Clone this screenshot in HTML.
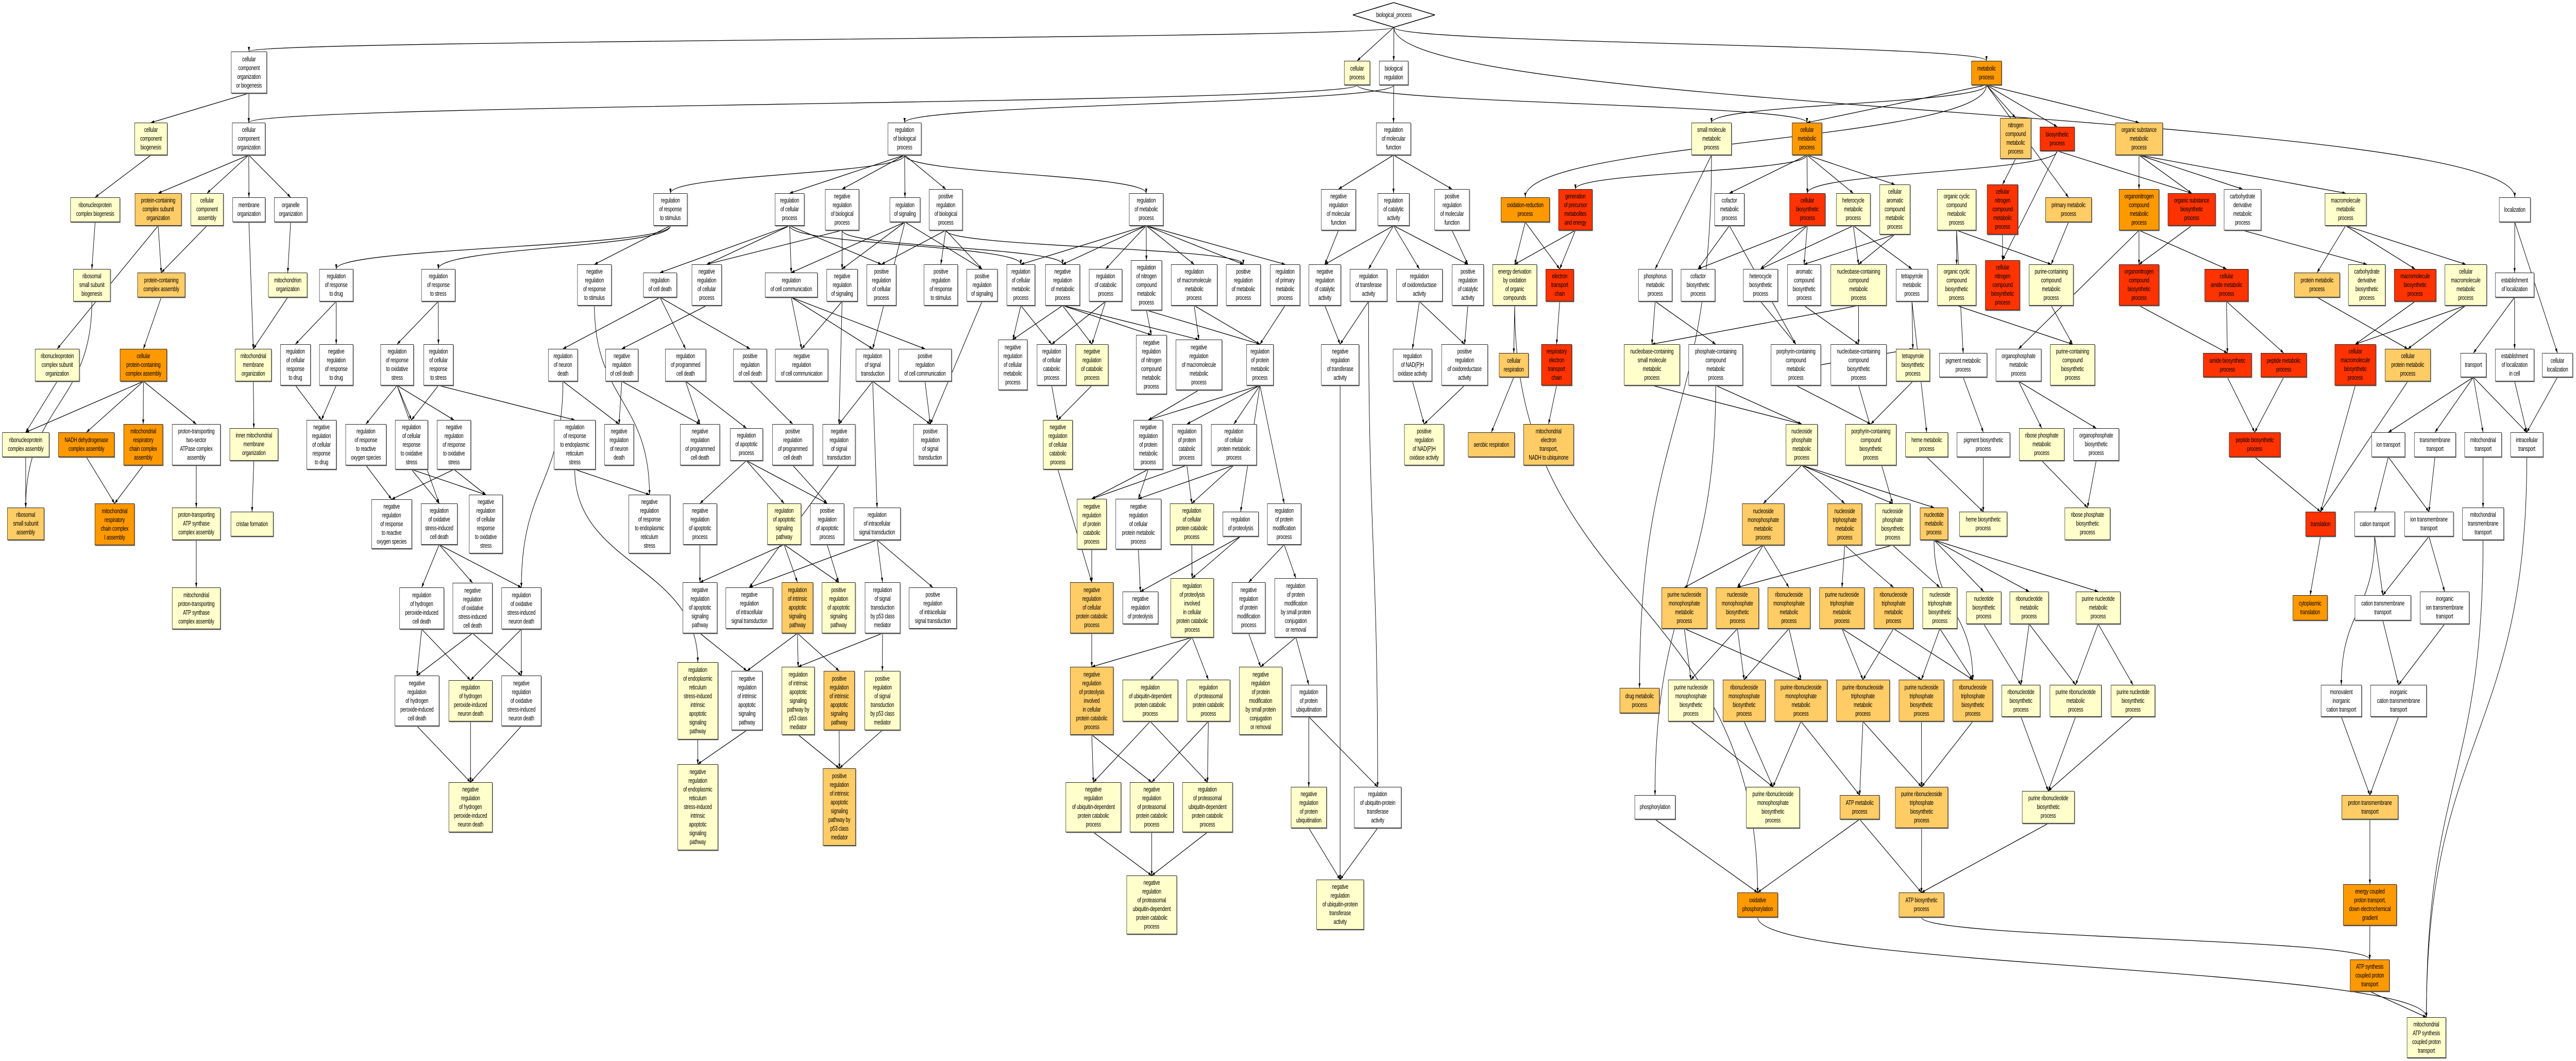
<!DOCTYPE html>
<html><head><meta charset="utf-8"><style>
html,body{margin:0;padding:0;background:#fff;overflow:hidden;width:100%;height:100%}
#c{position:absolute;left:0;top:0;width:7068px;height:2059px;overflow:hidden;background:#fff;transform-origin:0 0}
svg{position:absolute;left:0;top:0}
.n{position:absolute;box-sizing:border-box;border:1.5px solid #222;box-shadow:1.5px 1.5px 0 #777;display:flex;align-items:center;justify-content:center;text-align:center;font-family:"Liberation Sans",sans-serif;font-size:12.5px;line-height:17px;letter-spacing:-0.3px;color:#000;white-space:nowrap;overflow:visible}
.w{background:#fff}.y{background:#ffffcc}.lo{background:#ffcc66}.o{background:#ff9900}.r{background:#ff3300}
.d{border:none;box-shadow:none;background:transparent}
</style></head><body><div id="c">
<svg id="s" width="7068" height="2059" viewBox="0 0 7068 2059"><defs><marker id="a" markerWidth="9" markerHeight="14" refX="14" refY="4.5" orient="auto" markerUnits="userSpaceOnUse" viewBox="0 0 14 9"><path d="M0,0 L14,4.5 L0,9 z" fill="#000"/></marker></defs><g id="e" fill="none" stroke="#000" stroke-width="1.3"></g><polygon points="3712,29 3824,5 3937,29 3824,53" fill="#fff" stroke="#000" stroke-width="1.5"/></svg>
<div class="n d" id="n133" style="left:3712px;top:5px;width:225px;height:48px">biological_process</div>
<div class="n w" id="n1" style="left:634px;top:100px;width:98px;height:81px">cellular<br>component<br>organization<br>or biogenesis</div>
<div class="n y" id="n2" style="left:369px;top:238px;width:90px;height:63px">cellular<br>component<br>biogenesis</div>
<div class="n w" id="n3" style="left:637px;top:238px;width:91px;height:63px">cellular<br>component<br>organization</div>
<div class="n y" id="n4" style="left:193px;top:383px;width:136px;height:48px">ribonucleoprotein<br>complex biogenesis</div>
<div class="n lo" id="n5" style="left:370px;top:375px;width:128px;height:63px">protein-containing<br>complex subunit<br>organization</div>
<div class="n y" id="n6" style="left:523px;top:375px;width:90px;height:63px">cellular<br>component<br>assembly</div>
<div class="n w" id="n7" style="left:638px;top:383px;width:90px;height:48px">membrane<br>organization</div>
<div class="n w" id="n8" style="left:752px;top:383px;width:91px;height:48px">organelle<br>organization</div>
<div class="n y" id="n9" style="left:201px;top:522px;width:102px;height:63px">ribosomal<br>small subunit<br>biogenesis</div>
<div class="n lo" id="n10" style="left:377px;top:529px;width:131px;height:48px">protein-containing<br>complex assembly</div>
<div class="n y" id="n11" style="left:736px;top:529px;width:107px;height:48px">mitochondrion<br>organization</div>
<div class="n w" id="n12" style="left:876px;top:522px;width:93px;height:63px">regulation<br>of response<br>to drug</div>
<div class="n w" id="n13" style="left:1156px;top:522px;width:93px;height:63px">regulation<br>of response<br>to stress</div>
<div class="n w" id="n14" style="left:1584px;top:513px;width:94px;height:80px">negative<br>regulation<br>of response<br>to stimulus</div>
<div class="n y" id="n15" style="left:96px;top:677px;width:122px;height:63px">ribonucleoprotein<br>complex subunit<br>organization</div>
<div class="n o" id="n16" style="left:329px;top:677px;width:129px;height:63px">cellular<br>protein-containing<br>complex assembly</div>
<div class="n y" id="n17" style="left:645px;top:677px;width:100px;height:63px">mitochondrial<br>membrane<br>organization</div>
<div class="n w" id="n18" style="left:769px;top:668px;width:83px;height:80px">regulation<br>of cellular<br>response<br>to drug</div>
<div class="n w" id="n19" style="left:876px;top:668px;width:93px;height:80px">negative<br>regulation<br>of response<br>to drug</div>
<div class="n w" id="n20" style="left:1044px;top:668px;width:91px;height:80px">regulation<br>of response<br>to oxidative<br>stress</div>
<div class="n w" id="n21" style="left:1162px;top:668px;width:82px;height:80px">regulation<br>of cellular<br>response<br>to stress</div>
<div class="n w" id="n22" style="left:1504px;top:677px;width:81px;height:63px">regulation<br>of neuron<br>death</div>
<div class="n w" id="n23" style="left:1661px;top:677px;width:90px;height:63px">negative<br>regulation<br>of cell death</div>
<div class="n y" id="n24" style="left:6px;top:839px;width:129px;height:48px">ribonucleoprotein<br>complex assembly</div>
<div class="n o" id="n25" style="left:160px;top:839px;width:154px;height:48px">NADH dehydrogenase<br>complex assembly</div>
<div class="n o" id="n26" style="left:339px;top:823px;width:108px;height:80px">mitochondrial<br>respiratory<br>chain complex<br>assembly</div>
<div class="n w" id="n27" style="left:472px;top:823px;width:133px;height:80px">proton-transporting<br>two-sector<br>ATPase complex<br>assembly</div>
<div class="n y" id="n28" style="left:630px;top:831px;width:133px;height:63px">inner mitochondrial<br>membrane<br>organization</div>
<div class="n w" id="n29" style="left:841px;top:815px;width:82px;height:96px">negative<br>regulation<br>of cellular<br>response<br>to drug</div>
<div class="n w" id="n30" style="left:948px;top:823px;width:112px;height:80px">regulation<br>of response<br>to reactive<br>oxygen species</div>
<div class="n w" id="n31" style="left:1084px;top:815px;width:90px;height:96px">regulation<br>of cellular<br>response<br>to oxidative<br>stress</div>
<div class="n w" id="n32" style="left:1199px;top:815px;width:93px;height:96px">negative<br>regulation<br>of response<br>to oxidative<br>stress</div>
<div class="n w" id="n33" style="left:1520px;top:815px;width:114px;height:96px">regulation<br>of response<br>to endoplasmic<br>reticulum<br>stress</div>
<div class="n w" id="n34" style="left:1658px;top:823px;width:81px;height:80px">negative<br>regulation<br>of neuron<br>death</div>
<div class="n lo" id="n35" style="left:20px;top:985px;width:101px;height:63px">ribosomal<br>small subunit<br>assembly</div>
<div class="n o" id="n36" style="left:260px;top:977px;width:109px;height:81px">mitochondrial<br>respiratory<br>chain complex<br>I assembly</div>
<div class="n y" id="n37" style="left:472px;top:985px;width:133px;height:63px">proton-transporting<br>ATP synthase<br>complex assembly</div>
<div class="n y" id="n38" style="left:633px;top:993px;width:117px;height:48px">cristae formation</div>
<div class="n w" id="n39" style="left:1019px;top:969px;width:111px;height:96px">negative<br>regulation<br>of response<br>to reactive<br>oxygen species</div>
<div class="n w" id="n40" style="left:1155px;top:977px;width:100px;height:80px">regulation<br>of oxidative<br>stress-induced<br>cell death</div>
<div class="n w" id="n41" style="left:1287px;top:960px;width:92px;height:114px">negative<br>regulation<br>of cellular<br>response<br>to oxidative<br>stress</div>
<div class="n w" id="n42" style="left:1725px;top:960px;width:114px;height:114px">negative<br>regulation<br>of response<br>to endoplasmic<br>reticulum<br>stress</div>
<div class="n y" id="n44" style="left:472px;top:1140px;width:133px;height:81px">mitochondrial<br>proton-transporting<br>ATP synthase<br>complex assembly</div>
<div class="n w" id="n45" style="left:1096px;top:1140px;width:122px;height:81px">regulation<br>of hydrogen<br>peroxide-induced<br>cell death</div>
<div class="n w" id="n46" style="left:1242px;top:1131px;width:109px;height:98px">negative<br>regulation<br>of oxidative<br>stress-induced<br>cell death</div>
<div class="n w" id="n47" style="left:1376px;top:1140px;width:109px;height:81px">regulation<br>of oxidative<br>stress-induced<br>neuron death</div>
<div class="n w" id="n48" style="left:1083px;top:1311px;width:122px;height:98px">negative<br>regulation<br>of hydrogen<br>peroxide-induced<br>cell death</div>
<div class="n y" id="n49" style="left:1231px;top:1320px;width:120px;height:80px">regulation<br>of hydrogen<br>peroxide-induced<br>neuron death</div>
<div class="n w" id="n50" style="left:1376px;top:1311px;width:109px;height:98px">negative<br>regulation<br>of oxidative<br>stress-induced<br>neuron death</div>
<div class="n y" id="n51" style="left:1231px;top:1518px;width:120px;height:97px">negative<br>regulation<br>of hydrogen<br>peroxide-induced<br>neuron death</div>
<div class="n w" id="n52" style="left:2436px;top:238px;width:92px;height:63px">regulation<br>of biological<br>process</div>
<div class="n w" id="n53" style="left:1793px;top:375px;width:93px;height:63px">regulation<br>of response<br>to stimulus</div>
<div class="n w" id="n54" style="left:2126px;top:375px;width:81px;height:63px">regulation<br>of cellular<br>process</div>
<div class="n w" id="n55" style="left:2264px;top:367px;width:93px;height:80px">negative<br>regulation<br>of biological<br>process</div>
<div class="n w" id="n56" style="left:2441px;top:383px;width:84px;height:48px">regulation<br>of signaling</div>
<div class="n w" id="n57" style="left:2549px;top:367px;width:92px;height:80px">positive<br>regulation<br>of biological<br>process</div>
<div class="n w" id="n58" style="left:3098px;top:375px;width:94px;height:63px">regulation<br>of metabolic<br>process</div>
<div class="n w" id="n59" style="left:1765px;top:529px;width:92px;height:48px">regulation<br>of cell death</div>
<div class="n w" id="n60" style="left:1898px;top:513px;width:82px;height:80px">negative<br>regulation<br>of cellular<br>process</div>
<div class="n w" id="n61" style="left:2099px;top:529px;width:144px;height:48px">regulation<br>of cell communication</div>
<div class="n w" id="n62" style="left:2268px;top:522px;width:85px;height:63px">negative<br>regulation<br>of signaling</div>
<div class="n w" id="n63" style="left:2378px;top:513px;width:81px;height:80px">positive<br>regulation<br>of cellular<br>process</div>
<div class="n w" id="n64" style="left:2535px;top:513px;width:93px;height:80px">positive<br>regulation<br>of response<br>to stimulus</div>
<div class="n w" id="n65" style="left:2652px;top:522px;width:85px;height:63px">positive<br>regulation<br>of signaling</div>
<div class="n w" id="n66" style="left:2762px;top:513px;width:78px;height:80px">regulation<br>of cellular<br>metabolic<br>process</div>
<div class="n w" id="n67" style="left:2868px;top:513px;width:95px;height:80px">negative<br>regulation<br>of metabolic<br>process</div>
<div class="n w" id="n68" style="left:2988px;top:522px;width:91px;height:63px">regulation<br>of catabolic<br>process</div>
<div class="n w" id="n69" style="left:3103px;top:505px;width:85px;height:97px">regulation<br>of nitrogen<br>compound<br>metabolic<br>process</div>
<div class="n w" id="n70" style="left:3213px;top:513px;width:127px;height:80px">regulation<br>of macromolecule<br>metabolic<br>process</div>
<div class="n w" id="n71" style="left:3364px;top:513px;width:95px;height:80px">positive<br>regulation<br>of metabolic<br>process</div>
<div class="n w" id="n72" style="left:3485px;top:513px;width:82px;height:80px">regulation<br>of primary<br>metabolic<br>process</div>
<div class="n w" id="n73" style="left:1825px;top:677px;width:112px;height:63px">regulation<br>of programmed<br>cell death</div>
<div class="n w" id="n74" style="left:2012px;top:677px;width:92px;height:63px">positive<br>regulation<br>of cell death</div>
<div class="n w" id="n75" style="left:2127px;top:677px;width:145px;height:63px">negative<br>regulation<br>of cell communication</div>
<div class="n w" id="n76" style="left:2348px;top:677px;width:93px;height:63px">regulation<br>of signal<br>transduction</div>
<div class="n w" id="n77" style="left:2465px;top:677px;width:146px;height:63px">positive<br>regulation<br>of cell communication</div>
<div class="n w" id="n78" style="left:2739px;top:659px;width:80px;height:98px">negative<br>regulation<br>of cellular<br>metabolic<br>process</div>
<div class="n w" id="n79" style="left:2845px;top:668px;width:81px;height:80px">regulation<br>of cellular<br>catabolic<br>process</div>
<div class="n y" id="n80" style="left:2951px;top:668px;width:90px;height:80px">negative<br>regulation<br>of catabolic<br>process</div>
<div class="n w" id="n81" style="left:3117px;top:650px;width:84px;height:115px">negative<br>regulation<br>of nitrogen<br>compound<br>metabolic<br>process</div>
<div class="n w" id="n82" style="left:3226px;top:659px;width:127px;height:98px">negative<br>regulation<br>of macromolecule<br>metabolic<br>process</div>
<div class="n w" id="n83" style="left:3420px;top:668px;width:74px;height:80px">regulation<br>of protein<br>metabolic<br>process</div>
<div class="n w" id="n84" style="left:1866px;top:823px;width:109px;height:80px">negative<br>regulation<br>of programmed<br>cell death</div>
<div class="n w" id="n85" style="left:2003px;top:831px;width:90px;height:63px">regulation<br>of apoptotic<br>process</div>
<div class="n w" id="n86" style="left:2119px;top:823px;width:112px;height:80px">positive<br>regulation<br>of programmed<br>cell death</div>
<div class="n w" id="n87" style="left:2257px;top:823px;width:90px;height:80px">negative<br>regulation<br>of signal<br>transduction</div>
<div class="n w" id="n88" style="left:2506px;top:823px;width:93px;height:80px">positive<br>regulation<br>of signal<br>transduction</div>
<div class="n y" id="n89" style="left:2862px;top:815px;width:81px;height:96px">negative<br>regulation<br>of cellular<br>catabolic<br>process</div>
<div class="n w" id="n90" style="left:3110px;top:815px;width:81px;height:96px">negative<br>regulation<br>of protein<br>metabolic<br>process</div>
<div class="n w" id="n91" style="left:3216px;top:823px;width:81px;height:80px">regulation<br>of protein<br>catabolic<br>process</div>
<div class="n w" id="n92" style="left:3323px;top:823px;width:125px;height:80px">regulation<br>of cellular<br>protein metabolic<br>process</div>
<div class="n w" id="n94" style="left:1874px;top:977px;width:93px;height:80px">negative<br>regulation<br>of apoptotic<br>process</div>
<div class="n y" id="n95" style="left:2105px;top:977px;width:93px;height:80px">regulation<br>of apoptotic<br>signaling<br>pathway</div>
<div class="n w" id="n96" style="left:2223px;top:977px;width:93px;height:80px">positive<br>regulation<br>of apoptotic<br>process</div>
<div class="n w" id="n97" style="left:2342px;top:985px;width:129px;height:63px">regulation<br>of intracellular<br>signal transduction</div>
<div class="n y" id="n98" style="left:2955px;top:968px;width:81px;height:98px">negative<br>regulation<br>of protein<br>catabolic<br>process</div>
<div class="n w" id="n99" style="left:3061px;top:968px;width:125px;height:98px">negative<br>regulation<br>of cellular<br>protein metabolic<br>process</div>
<div class="n y" id="n100" style="left:3210px;top:977px;width:120px;height:80px">regulation<br>of cellular<br>protein catabolic<br>process</div>
<div class="n w" id="n101" style="left:3355px;top:993px;width:98px;height:48px">regulation<br>of proteolysis</div>
<div class="n w" id="n102" style="left:3477px;top:977px;width:93px;height:80px">regulation<br>of protein<br>modification<br>process</div>
<div class="n w" id="n103" style="left:2494px;top:1140px;width:131px;height:80px">positive<br>regulation<br>of intracellular<br>signal transduction</div>
<div class="n w" id="n104" style="left:1873px;top:1130px;width:95px;height:99px">negative<br>regulation<br>of apoptotic<br>signaling<br>pathway</div>
<div class="n w" id="n105" style="left:1991px;top:1140px;width:130px;height:80px">negative<br>regulation<br>of intracellular<br>signal transduction</div>
<div class="n lo" id="n106" style="left:2145px;top:1130px;width:86px;height:99px">regulation<br>of intrinsic<br>apoptotic<br>signaling<br>pathway</div>
<div class="n y" id="n107" style="left:2255px;top:1130px;width:92px;height:99px">positive<br>regulation<br>of apoptotic<br>signaling<br>pathway</div>
<div class="n w" id="n108" style="left:2373px;top:1130px;width:97px;height:99px">regulation<br>of signal<br>transduction<br>by p53 class<br>mediator</div>
<div class="n y" id="n109" style="left:1859px;top:1285px;width:111px;height:150px">regulation<br>of endoplasmic<br>reticulum<br>stress-induced<br>intrinsic<br>apoptotic<br>signaling<br>pathway</div>
<div class="n w" id="n110" style="left:2007px;top:1302px;width:85px;height:115px">negative<br>regulation<br>of intrinsic<br>apoptotic<br>signaling<br>pathway</div>
<div class="n y" id="n111" style="left:2145px;top:1294px;width:90px;height:132px">regulation<br>of intrinsic<br>apoptotic<br>signaling<br>pathway by<br>p53 class<br>mediator</div>
<div class="n lo" id="n112" style="left:2260px;top:1302px;width:85px;height:115px">positive<br>regulation<br>of intrinsic<br>apoptotic<br>signaling<br>pathway</div>
<div class="n y" id="n113" style="left:2372px;top:1302px;width:98px;height:115px">positive<br>regulation<br>of signal<br>transduction<br>by p53 class<br>mediator</div>
<div class="n y" id="n114" style="left:1859px;top:1483px;width:111px;height:167px">negative<br>regulation<br>of endoplasmic<br>reticulum<br>stress-induced<br>intrinsic<br>apoptotic<br>signaling<br>pathway</div>
<div class="n lo" id="n115" style="left:2258px;top:1491px;width:90px;height:150px">positive<br>regulation<br>of intrinsic<br>apoptotic<br>signaling<br>pathway by<br>p53 class<br>mediator</div>
<div class="n lo" id="n116" style="left:2936px;top:1130px;width:119px;height:99px">negative<br>regulation<br>of cellular<br>protein catabolic<br>process</div>
<div class="n w" id="n117" style="left:3080px;top:1148px;width:98px;height:63px">negative<br>regulation<br>of proteolysis</div>
<div class="n y" id="n118" style="left:3212px;top:1122px;width:118px;height:115px">regulation<br>of proteolysis<br>involved<br>in cellular<br>protein catabolic<br>process</div>
<div class="n w" id="n119" style="left:3380px;top:1130px;width:92px;height:99px">negative<br>regulation<br>of protein<br>modification<br>process</div>
<div class="n w" id="n120" style="left:3497px;top:1122px;width:117px;height:115px">regulation<br>of protein<br>modification<br>by small protein<br>conjugation<br>or removal</div>
<div class="n lo" id="n121" style="left:2936px;top:1294px;width:119px;height:132px">negative<br>regulation<br>of proteolysis<br>involved<br>in cellular<br>protein catabolic<br>process</div>
<div class="n y" id="n122" style="left:3080px;top:1319px;width:152px;height:81px">regulation<br>of ubiquitin-dependent<br>protein catabolic<br>process</div>
<div class="n y" id="n123" style="left:3256px;top:1319px;width:119px;height:81px">regulation<br>of proteasomal<br>protein catabolic<br>process</div>
<div class="n y" id="n124" style="left:3400px;top:1294px;width:118px;height:132px">negative<br>regulation<br>of protein<br>modification<br>by small protein<br>conjugation<br>or removal</div>
<div class="n y" id="n125" style="left:2924px;top:1518px;width:152px;height:97px">negative<br>regulation<br>of ubiquitin-dependent<br>protein catabolic<br>process</div>
<div class="n y" id="n126" style="left:3100px;top:1518px;width:120px;height:97px">negative<br>regulation<br>of proteasomal<br>protein catabolic<br>process</div>
<div class="n y" id="n127" style="left:3244px;top:1518px;width:138px;height:97px">regulation<br>of proteasomal<br>ubiquitin-dependent<br>protein catabolic<br>process</div>
<div class="n y" id="n128" style="left:3091px;top:1699px;width:138px;height:114px">negative<br>regulation<br>of proteasomal<br>ubiquitin-dependent<br>protein catabolic<br>process</div>
<div class="n w" id="n129" style="left:3542px;top:1329px;width:98px;height:62px">regulation<br>of protein<br>ubiquitination</div>
<div class="n y" id="n130" style="left:3542px;top:1527px;width:98px;height:80px">negative<br>regulation<br>of protein<br>ubiquitination</div>
<div class="n w" id="n131" style="left:3715px;top:1527px;width:130px;height:80px">regulation<br>of ubiquitin-protein<br>transferase<br>activity</div>
<div class="n y" id="n132" style="left:3612px;top:1707px;width:130px;height:97px">negative<br>regulation<br>of ubiquitin-protein<br>transferase<br>activity</div>
<div class="n y" id="n134" style="left:3688px;top:118px;width:71px;height:47px">cellular<br>process</div>
<div class="n w" id="n135" style="left:3784px;top:118px;width:80px;height:47px">biological<br>regulation</div>
<div class="n w" id="n136" style="left:3776px;top:238px;width:95px;height:63px">regulation<br>of molecular<br>function</div>
<div class="n w" id="n137" style="left:3625px;top:367px;width:95px;height:80px">negative<br>regulation<br>of molecular<br>function</div>
<div class="n w" id="n138" style="left:3780px;top:375px;width:87px;height:63px">regulation<br>of catalytic<br>activity</div>
<div class="n w" id="n139" style="left:3936px;top:367px;width:96px;height:80px">positive<br>regulation<br>of molecular<br>function</div>
<div class="n o" id="n140" style="left:4118px;top:383px;width:134px;height:48px">oxidation-reduction<br>process</div>
<div class="n r" id="n141" style="left:4276px;top:367px;width:93px;height:80px">generation<br>of precursor<br>metabolites<br>and energy</div>
<div class="n y" id="n142" style="left:4641px;top:238px;width:110px;height:63px">small molecule<br>metabolic<br>process</div>
<div class="n o" id="n143" style="left:4917px;top:238px;width:82px;height:63px">cellular<br>metabolic<br>process</div>
<div class="n w" id="n144" style="left:4704px;top:375px;width:82px;height:63px">cofactor<br>metabolic<br>process</div>
<div class="n r" id="n145" style="left:4910px;top:375px;width:98px;height:63px">cellular<br>biosynthetic<br>process</div>
<div class="n y" id="n146" style="left:5038px;top:375px;width:94px;height:63px">heterocycle<br>metabolic<br>process</div>
<div class="n y" id="n147" style="left:5157px;top:358px;width:84px;height:97px">cellular<br>aromatic<br>compound<br>metabolic<br>process</div>
<div class="n w" id="n148" style="left:3591px;top:513px;width:88px;height:80px">negative<br>regulation<br>of catalytic<br>activity</div>
<div class="n w" id="n149" style="left:3704px;top:522px;width:102px;height:63px">regulation<br>of transferase<br>activity</div>
<div class="n w" id="n150" style="left:3831px;top:522px;width:127px;height:63px">regulation<br>of oxidoreductase<br>activity</div>
<div class="n w" id="n151" style="left:3984px;top:513px;width:87px;height:80px">positive<br>regulation<br>of catalytic<br>activity</div>
<div class="n y" id="n152" style="left:4095px;top:513px;width:122px;height:80px">energy derivation<br>by oxidation<br>of organic<br>compounds</div>
<div class="n r" id="n153" style="left:4241px;top:522px;width:77px;height:63px">electron<br>transport<br>chain</div>
<div class="n w" id="n154" style="left:4495px;top:522px;width:93px;height:63px">phosphorus<br>metabolic<br>process</div>
<div class="n w" id="n155" style="left:4612px;top:522px;width:94px;height:63px">cofactor<br>biosynthetic<br>process</div>
<div class="n w" id="n156" style="left:4783px;top:522px;width:95px;height:63px">heterocycle<br>biosynthetic<br>process</div>
<div class="n w" id="n157" style="left:4904px;top:513px;width:92px;height:80px">aromatic<br>compound<br>biosynthetic<br>process</div>
<div class="n y" id="n158" style="left:5023px;top:513px;width:153px;height:80px">nucleobase-containing<br>compound<br>metabolic<br>process</div>
<div class="n w" id="n159" style="left:5202px;top:522px;width:88px;height:63px">tetrapyrrole<br>metabolic<br>process</div>
<div class="n w" id="n160" style="left:3625px;top:668px;width:104px;height:80px">negative<br>regulation<br>of transferase<br>activity</div>
<div class="n w" id="n161" style="left:3822px;top:677px;width:107px;height:63px">regulation<br>of NAD(P)H<br>oxidase activity</div>
<div class="n w" id="n162" style="left:3955px;top:668px;width:127px;height:80px">positive<br>regulation<br>of oxidoreductase<br>activity</div>
<div class="n lo" id="n163" style="left:4113px;top:685px;width:81px;height:47px">cellular<br>respiration</div>
<div class="n r" id="n164" style="left:4229px;top:668px;width:84px;height:80px">respiratory<br>electron<br>transport<br>chain</div>
<div class="n y" id="n165" style="left:4456px;top:668px;width:153px;height:80px">nucleobase-containing<br>small molecule<br>metabolic<br>process</div>
<div class="n w" id="n166" style="left:4633px;top:668px;width:149px;height:80px">phosphate-containing<br>compound<br>metabolic<br>process</div>
<div class="n w" id="n167" style="left:4859px;top:668px;width:137px;height:80px">porphyrin-containing<br>compound<br>metabolic<br>process</div>
<div class="n w" id="n168" style="left:5023px;top:668px;width:153px;height:80px">nucleobase-containing<br>compound<br>biosynthetic<br>process</div>
<div class="n y" id="n169" style="left:5202px;top:677px;width:93px;height:63px">tetrapyrrole<br>biosynthetic<br>process</div>
<div class="n y" id="n170" style="left:3853px;top:823px;width:109px;height:80px">positive<br>regulation<br>of NAD(P)H<br>oxidase activity</div>
<div class="n lo" id="n171" style="left:4028px;top:839px;width:128px;height:48px">aerobic respiration</div>
<div class="n lo" id="n172" style="left:4180px;top:823px;width:138px;height:80px">mitochondrial<br>electron<br>transport,<br>NADH to ubiquinone</div>
<div class="n y" id="n173" style="left:4900px;top:823px;width:87px;height:80px">nucleoside<br>phosphate<br>metabolic<br>process</div>
<div class="n y" id="n174" style="left:5063px;top:823px;width:140px;height:80px">porphyrin-containing<br>compound<br>biosynthetic<br>process</div>
<div class="n y" id="n175" style="left:5228px;top:839px;width:117px;height:48px">heme metabolic<br>process</div>
<div class="n lo" id="n176" style="left:4780px;top:977px;width:116px;height:81px">nucleoside<br>monophosphate<br>metabolic<br>process</div>
<div class="n lo" id="n177" style="left:5014px;top:977px;width:95px;height:81px">nucleoside<br>triphosphate<br>metabolic<br>process</div>
<div class="n y" id="n178" style="left:5145px;top:977px;width:96px;height:81px">nucleoside<br>phosphate<br>biosynthetic<br>process</div>
<div class="n lo" id="n179" style="left:5268px;top:985px;width:77px;height:63px">nucleotide<br>metabolic<br>process</div>
<div class="n lo" id="n180" style="left:4559px;top:1140px;width:125px;height:80px">purine nucleoside<br>monophosphate<br>metabolic<br>process</div>
<div class="n lo" id="n181" style="left:4708px;top:1140px;width:118px;height:80px">nucleoside<br>monophosphate<br>biosynthetic<br>process</div>
<div class="n lo" id="n182" style="left:4850px;top:1140px;width:117px;height:80px">ribonucleoside<br>monophosphate<br>metabolic<br>process</div>
<div class="n lo" id="n183" style="left:4992px;top:1140px;width:124px;height:80px">purine nucleoside<br>triphosphate<br>metabolic<br>process</div>
<div class="n lo" id="n184" style="left:5141px;top:1140px;width:109px;height:80px">ribonucleoside<br>triphosphate<br>metabolic<br>process</div>
<div class="n y" id="n185" style="left:5275px;top:1140px;width:95px;height:80px">nucleoside<br>triphosphate<br>biosynthetic<br>process</div>
<div class="n lo" id="n186" style="left:4444px;top:1335px;width:109px;height:49px">drug metabolic<br>process</div>
<div class="n y" id="n187" style="left:4577px;top:1319px;width:125px;height:81px">purine nucleoside<br>monophosphate<br>biosynthetic<br>process</div>
<div class="n lo" id="n188" style="left:4727px;top:1319px;width:117px;height:81px">ribonucleoside<br>monophosphate<br>biosynthetic<br>process</div>
<div class="n lo" id="n189" style="left:4869px;top:1319px;width:145px;height:81px">purine ribonucleoside<br>monophosphate<br>metabolic<br>process</div>
<div class="n lo" id="n190" style="left:5038px;top:1319px;width:147px;height:81px">purine ribonucleoside<br>triphosphate<br>metabolic<br>process</div>
<div class="n lo" id="n191" style="left:5210px;top:1319px;width:124px;height:81px">purine nucleoside<br>triphosphate<br>biosynthetic<br>process</div>
<div class="n lo" id="n192" style="left:5358px;top:1319px;width:110px;height:81px">ribonucleoside<br>triphosphate<br>biosynthetic<br>process</div>
<div class="n w" id="n193" style="left:4485px;top:1543px;width:112px;height:47px">phosphorylation</div>
<div class="n y" id="n194" style="left:4791px;top:1527px;width:147px;height:80px">purine ribonucleoside<br>monophosphate<br>biosynthetic<br>process</div>
<div class="n lo" id="n195" style="left:5048px;top:1543px;width:109px;height:47px">ATP metabolic<br>process</div>
<div class="n lo" id="n196" style="left:5200px;top:1527px;width:145px;height:80px">purine ribonucleoside<br>triphosphate<br>biosynthetic<br>process</div>
<div class="n o" id="n197" style="left:4767px;top:1732px;width:111px;height:48px">oxidative<br>phosphorylation</div>
<div class="n lo" id="n198" style="left:5210px;top:1732px;width:124px;height:48px">ATP biosynthetic<br>process</div>
<div class="n o" id="n199" style="left:5409px;top:118px;width:83px;height:47px">metabolic<br>process</div>
<div class="n lo" id="n200" style="left:5488px;top:229px;width:85px;height:79px">nitrogen<br>compound<br>metabolic<br>process</div>
<div class="n r" id="n201" style="left:5597px;top:246px;width:95px;height:47px">biosynthetic<br>process</div>
<div class="n lo" id="n202" style="left:5804px;top:238px;width:130px;height:63px">organic substance<br>metabolic<br>process</div>
<div class="n y" id="n203" style="left:5315px;top:367px;width:107px;height:80px">organic cyclic<br>compound<br>metabolic<br>process</div>
<div class="n r" id="n204" style="left:5452px;top:358px;width:85px;height:97px">cellular<br>nitrogen<br>compound<br>metabolic<br>process</div>
<div class="n lo" id="n205" style="left:5612px;top:383px;width:127px;height:48px">primary metabolic<br>process</div>
<div class="n o" id="n206" style="left:5814px;top:367px;width:110px;height:80px">organonitrogen<br>compound<br>metabolic<br>process</div>
<div class="n r" id="n207" style="left:5948px;top:375px;width:131px;height:63px">organic substance<br>biosynthetic<br>process</div>
<div class="n w" id="n208" style="left:6102px;top:367px;width:102px;height:80px">carbohydrate<br>derivative<br>metabolic<br>process</div>
<div class="n y" id="n209" style="left:6379px;top:375px;width:114px;height:63px">macromolecule<br>metabolic<br>process</div>
<div class="n w" id="n210" style="left:6857px;top:383px;width:86px;height:48px">localization</div>
<div class="n y" id="n211" style="left:5315px;top:513px;width:107px;height:80px">organic cyclic<br>compound<br>biosynthetic<br>process</div>
<div class="n r" id="n212" style="left:5447px;top:505px;width:95px;height:97px">cellular<br>nitrogen<br>compound<br>biosynthetic<br>process</div>
<div class="n y" id="n213" style="left:5567px;top:513px;width:122px;height:80px">purine-containing<br>compound<br>metabolic<br>process</div>
<div class="n r" id="n214" style="left:5814px;top:513px;width:110px;height:80px">organonitrogen<br>compound<br>biosynthetic<br>process</div>
<div class="n r" id="n215" style="left:6049px;top:522px;width:120px;height:63px">cellular<br>amide metabolic<br>process</div>
<div class="n lo" id="n216" style="left:6295px;top:529px;width:125px;height:48px">protein metabolic<br>process</div>
<div class="n y" id="n217" style="left:6443px;top:513px;width:102px;height:80px">carbohydrate<br>derivative<br>biosynthetic<br>process</div>
<div class="n r" id="n218" style="left:6569px;top:522px;width:115px;height:63px">macromolecule<br>biosynthetic<br>process</div>
<div class="n y" id="n219" style="left:6708px;top:513px;width:115px;height:80px">cellular<br>macromolecule<br>metabolic<br>process</div>
<div class="n w" id="n220" style="left:6846px;top:529px;width:107px;height:48px">establishment<br>of localization</div>
<div class="n w" id="n221" style="left:5321px;top:685px;width:131px;height:47px">pigment metabolic<br>process</div>
<div class="n w" id="n222" style="left:5476px;top:677px;width:125px;height:63px">organophosphate<br>metabolic<br>process</div>
<div class="n y" id="n223" style="left:5625px;top:668px;width:123px;height:80px">purine-containing<br>compound<br>biosynthetic<br>process</div>
<div class="n r" id="n224" style="left:6045px;top:685px;width:133px;height:47px">amide biosynthetic<br>process</div>
<div class="n r" id="n225" style="left:6203px;top:685px;width:126px;height:47px">peptide metabolic<br>process</div>
<div class="n r" id="n226" style="left:6406px;top:668px;width:113px;height:80px">cellular<br>macromolecule<br>biosynthetic<br>process</div>
<div class="n lo" id="n227" style="left:6544px;top:677px;width:125px;height:63px">cellular<br>protein metabolic<br>process</div>
<div class="n w" id="n228" style="left:6751px;top:685px;width:71px;height:47px">transport</div>
<div class="n w" id="n229" style="left:6846px;top:677px;width:107px;height:63px">establishment<br>of localization<br>in cell</div>
<div class="n w" id="n230" style="left:6975px;top:685px;width:84px;height:47px">cellular<br>localization</div>
<div class="n w" id="n231" style="left:5369px;top:839px;width:146px;height:48px">pigment biosynthetic<br>process</div>
<div class="n y" id="n232" style="left:5540px;top:831px;width:124px;height:63px">ribose phosphate<br>metabolic<br>process</div>
<div class="n w" id="n233" style="left:5689px;top:831px;width:125px;height:63px">organophosphate<br>biosynthetic<br>process</div>
<div class="n r" id="n234" style="left:6116px;top:839px;width:141px;height:48px">peptide biosynthetic<br>process</div>
<div class="n w" id="n235" style="left:6507px;top:839px;width:92px;height:48px">ion transport</div>
<div class="n w" id="n236" style="left:6624px;top:839px;width:114px;height:48px">transmembrane<br>transport</div>
<div class="n w" id="n237" style="left:6762px;top:839px;width:102px;height:48px">mitochondrial<br>transport</div>
<div class="n w" id="n238" style="left:6888px;top:839px;width:90px;height:48px">intracellular<br>transport</div>
<div class="n y" id="n239" style="left:5376px;top:993px;width:131px;height:48px">heme biosynthetic<br>process</div>
<div class="n y" id="n240" style="left:5665px;top:985px;width:125px;height:63px">ribose phosphate<br>biosynthetic<br>process</div>
<div class="n r" id="n241" style="left:6326px;top:993px;width:82px;height:48px">translation</div>
<div class="n w" id="n242" style="left:6460px;top:993px;width:111px;height:48px">cation transport</div>
<div class="n w" id="n243" style="left:6597px;top:993px;width:135px;height:48px">ion transmembrane<br>transport</div>
<div class="n w" id="n244" style="left:6756px;top:985px;width:114px;height:63px">mitochondrial<br>transmembrane<br>transport</div>
<div class="n y" id="n245" style="left:5395px;top:1148px;width:96px;height:63px">nucleotide<br>biosynthetic<br>process</div>
<div class="n y" id="n246" style="left:5514px;top:1148px;width:107px;height:63px">ribonucleotide<br>metabolic<br>process</div>
<div class="n y" id="n247" style="left:5696px;top:1148px;width:122px;height:63px">purine nucleotide<br>metabolic<br>process</div>
<div class="n o" id="n248" style="left:6291px;top:1155px;width:95px;height:49px">cytoplasmic<br>translation</div>
<div class="n w" id="n249" style="left:6461px;top:1155px;width:154px;height:49px">cation transmembrane<br>transport</div>
<div class="n w" id="n250" style="left:6640px;top:1148px;width:135px;height:63px">inorganic<br>ion transmembrane<br>transport</div>
<div class="n y" id="n251" style="left:5492px;top:1329px;width:106px;height:62px">ribonucleotide<br>biosynthetic<br>process</div>
<div class="n y" id="n252" style="left:5624px;top:1329px;width:142px;height:62px">purine ribonucleotide<br>metabolic<br>process</div>
<div class="n y" id="n253" style="left:5792px;top:1329px;width:121px;height:62px">purine nucleotide<br>biosynthetic<br>process</div>
<div class="n w" id="n254" style="left:6368px;top:1329px;width:112px;height:62px">monovalent<br>inorganic<br>cation transport</div>
<div class="n w" id="n255" style="left:6504px;top:1329px;width:154px;height:62px">inorganic<br>cation transmembrane<br>transport</div>
<div class="n y" id="n256" style="left:5548px;top:1535px;width:144px;height:63px">purine ribonucleotide<br>biosynthetic<br>process</div>
<div class="n lo" id="n257" style="left:6425px;top:1543px;width:155px;height:47px">proton transmembrane<br>transport</div>
<div class="n o" id="n258" style="left:6429px;top:1716px;width:147px;height:80px">energy coupled<br>proton transport,<br>down electrochemical<br>gradient</div>
<div class="n o" id="n259" style="left:6448px;top:1862px;width:108px;height:62px">ATP synthesis<br>coupled proton<br>transport</div>
<div class="n y" id="n260" style="left:6604px;top:1974px;width:107px;height:79px">mitochondrial<br>ATP synthesis<br>coupled proton<br>transport</div>
</div>
<script>
(function(){
function fit(){var c=document.getElementById('c');var W=window.innerWidth||document.documentElement.clientWidth||7068,H=window.innerHeight||document.documentElement.clientHeight||2059;c.style.transform='scale('+(W/7068)+','+(H/2059)+')';}
fit();window.addEventListener('resize',fit);
var E=[[133,1],[133,134],[133,135],[133,199],[133,210],[134,3],[134,143],[135,52],[135,136],
[136,137],[136,138],[136,139],[199,142],[199,143],[199,200],[199,201],[199,202],[199,205],[199,140],[143,141],
[1,2],[1,3],[2,4],[4,9],[3,5],[3,6],[3,7],[3,8],[5,10],[6,10],[5,15],[8,11],[10,16],[7,17],[11,17],[15,24],[16,24],[16,25],[16,26],[16,27],[25,36],[26,36],[27,37],[37,44],[17,28],[28,38],[9,35],[24,35],
[52,53],[52,54],[52,55],[52,56],[52,57],[52,58],[53,12],[53,13],[53,14],[12,18],[12,19],[13,20],[13,21],[18,29],[19,29],[20,30],[20,31],[20,32],[21,31],[30,39],[32,39],[31,40],[20,40],[31,41],[32,41],[40,45],[40,46],[40,47],[45,48],[46,48],[45,49],[47,49],[47,50],[46,50],[48,51],[49,51],[50,51],
[21,33],[33,42],[14,42],[22,34],[23,34],[22,47],[59,22],[59,73],[60,23],[73,84],[73,85],[85,94],[85,95],[85,96],[23,84],[74,86],[86,96],[94,104],[95,104],[95,106],[95,107],[96,107],[106,110],[106,111],[106,112],[104,110],[108,111],[108,113],[112,115],[111,115],[113,115],[109,114],[110,114],[33,109],
[54,59],[54,60],[54,61],[54,63],[54,66],[55,60],[55,62],[55,67],[56,61],[56,62],[56,65],[56,76],[57,63],[57,64],[57,65],[57,71],[61,75],[61,76],[61,77],[62,75],[62,87],[76,87],[76,88],[76,97],[77,88],[65,88],[97,103],[97,105],[87,105],[59,74],[97,108],
[58,66],[58,67],[58,68],[58,69],[58,70],[58,71],[58,72],[66,78],[66,79],[67,78],[67,80],[67,81],[67,82],[68,79],[68,80],[69,81],[69,83],[70,82],[70,83],[72,83],[79,89],[80,89],[83,90],[83,91],[83,92],[82,90],[91,98],[90,98],[89,116],[98,116],[92,99],[92,100],[90,99],[91,100],[83,101],[83,102],[100,118],[116,121],[118,121],[101,117],[99,117],[101,118],[102,119],[102,120],[120,124],[119,124],[118,122],[118,123],[122,125],[121,125],[123,126],[121,126],[123,127],[122,127],[125,128],[126,128],[127,128],[120,129],[129,130],[129,131],[131,132],[130,132],[149,131],[160,132],
[138,148],[138,149],[138,150],[138,151],[137,148],[139,151],[148,160],[149,160],[150,161],[150,162],[151,162],[161,170],[162,170],
[141,152],[140,152],[140,153],[141,153],[152,163],[153,164],[163,171],[164,172],
[143,144],[143,145],[143,146],[143,147],[142,154],[144,155],[145,155],[145,156],[145,157],[146,156],[146,158],[146,159],[147,157],[147,158],[154,166],[154,165],[144,167],[159,169],[167,169],[156,167],[158,165],[158,168],[157,168],[165,173],[166,173],[167,174],[169,174],[159,175],[173,176],[173,177],[173,178],[168,178],[173,179],
[176,180],[176,181],[176,182],[177,183],[177,184],[178,185],[178,181],[180,187],[181,187],[182,188],[181,188],[182,189],[180,189],[183,190],[184,190],[183,191],[185,191],[184,192],[185,192],[187,194],[188,194],[189,194],[189,195],[190,195],[190,196],[191,196],[192,196],[142,186],[166,193],[193,197],[195,197],[152,197],[195,198],[196,198],[198,259],[197,260],
[200,204],[201,212],[201,145],[202,206],[202,207],[202,208],[202,209],[203,211],[204,212],[203,213],[205,213],[206,214],[207,214],[206,215],[209,219],[209,216],[209,218],[208,217],[213,223],[211,223],[203,221],[206,222],[214,224],[215,224],[215,225],[218,226],[219,226],[216,227],[219,227],[210,220],[210,230],[220,228],[220,229],[228,235],[228,236],[228,237],[228,238],[229,238],[230,238],[221,231],[222,232],[222,233],[232,240],[233,240],[224,234],[225,234],[234,241],[226,241],[227,241],[231,239],[175,239],[235,242],[235,243],[236,243],[237,244],[241,248],[242,249],[243,249],[243,250],[242,254],[249,255],[250,255],[254,257],[255,257],[257,258],[258,259],[259,260],[244,260],[238,260],
[179,245],[179,246],[179,247],[245,251],[246,251],[246,252],[247,252],[247,253],[251,256],[252,256],[253,256],[256,198],[179,192],[201,207]];
var g=document.getElementById('e'),out='';
function R(i){var el=document.getElementById('n'+i);if(!el)return null;var s=el.style;return{x:parseFloat(s.left),y:parseFloat(s.top),w:parseFloat(s.width),h:parseFloat(s.height)};}
E.forEach(function(e){var p=R(e[0]),c=R(e[1]);if(!p||!c)return;
var x1=p.x+p.w/2,y1=p.y+p.h,x2=c.x+c.w/2,y2=c.y;
if(y2<y1){y1=p.y+p.h/2;x1=(x2<x1)?p.x:p.x+p.w;y2=c.y;}
var d;var dy=y2-y1;
if(dy<260&&Math.abs(x2-x1)<600){d='M'+x1+','+y1+' L'+x2+','+y2;}
else{var m=dy*0.5;d='M'+x1+','+y1+' C'+x1+','+(y1+m)+' '+x2+','+(y2-m)+' '+x2+','+y2;}
out+='<path d="'+d+'" marker-end="url(#a)"/>';});
g.innerHTML=out;
})();
</script>
</body></html>
